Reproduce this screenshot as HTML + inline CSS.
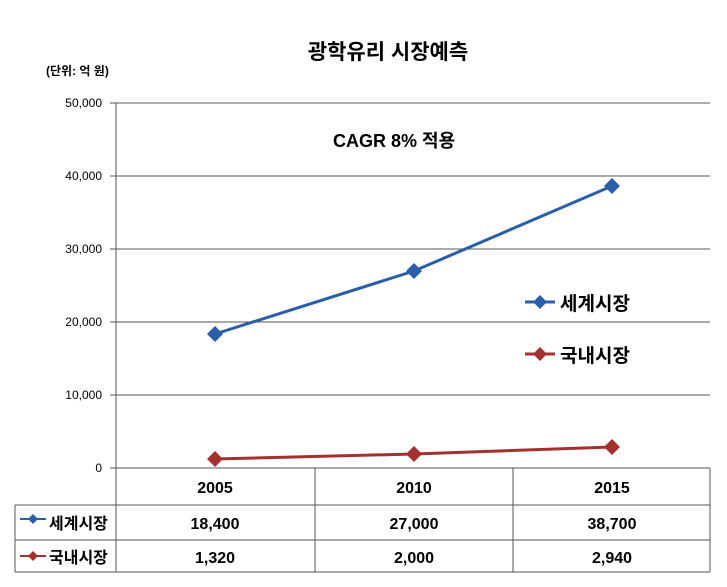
<!DOCTYPE html><html><head><meta charset="utf-8"><style>body{margin:0;background:#fff}svg{display:block}text{font-family:"Liberation Sans","Noto Sans CJK KR",sans-serif}</style></head><body>
<svg width="727" height="587" viewBox="0 0 727 587">
<text x="388" y="59" font-size="21" font-weight="bold" text-anchor="middle">광학유리 시장예측</text>
<text x="46" y="75" font-size="12" font-weight="bold">(단위: 억 원)</text>
<g stroke="#555" stroke-width="1">
<line x1="110" y1="103" x2="710" y2="103"/><line x1="110" y1="176" x2="710" y2="176"/><line x1="110" y1="249" x2="710" y2="249"/><line x1="110" y1="322" x2="710" y2="322"/><line x1="110" y1="395" x2="710" y2="395"/><line x1="110" y1="468" x2="710" y2="468"/>
<line x1="116" y1="103" x2="116" y2="572"/>
<line x1="315" y1="468" x2="315" y2="572"/><line x1="513" y1="468" x2="513" y2="572"/><line x1="710" y1="468" x2="710" y2="572"/>
<line x1="15" y1="505" x2="710" y2="505"/><line x1="15" y1="540" x2="710" y2="540"/><line x1="15" y1="572" x2="710" y2="572"/><line x1="15" y1="505" x2="15" y2="572"/>
</g>
<g font-size="12" text-anchor="end"><text x="102" y="107">50,000</text><text x="102" y="180">40,000</text><text x="102" y="253">30,000</text><text x="102" y="326">20,000</text><text x="102" y="399">10,000</text><text x="102" y="472">0</text></g>
<text x="333" y="147" font-size="18" font-weight="bold">CAGR 8% 적용</text>
<polyline points="215,334 414,271 612,186" fill="none" stroke="#2a5ea8" stroke-width="3"/>
<g fill="#2a5ea8"><path d="M215,326l8,8l-8,8l-8,-8z"/><path d="M414,263l8,8l-8,8l-8,-8z"/><path d="M612,178l8,8l-8,8l-8,-8z"/></g>
<polyline points="215,459 414,454 612,447" fill="none" stroke="#a3312f" stroke-width="3"/>
<g fill="#a3312f"><path d="M215,451l8,8l-8,8l-8,-8z"/><path d="M414,446l8,8l-8,8l-8,-8z"/><path d="M612,439l8,8l-8,8l-8,-8z"/></g>
<line x1="525" y1="302" x2="555" y2="302" stroke="#2a5ea8" stroke-width="3"/><path d="M540,295l7,7l-7,7l-7,-7z" fill="#2a5ea8"/>
<text x="560" y="310" font-size="19" font-weight="bold">세계시장</text>
<line x1="525" y1="354" x2="555" y2="354" stroke="#a3312f" stroke-width="3"/><path d="M540,347l7,7l-7,7l-7,-7z" fill="#a3312f"/>
<text x="560" y="362" font-size="19" font-weight="bold">국내시장</text>
<g font-size="16" font-weight="bold" text-anchor="middle">
<text x="215" y="493">2005</text><text x="414" y="493">2010</text><text x="612" y="493">2015</text>
<text x="215" y="529">18,400</text><text x="414" y="529">27,000</text><text x="612" y="529">38,700</text>
<text x="215" y="563">1,320</text><text x="414" y="563">2,000</text><text x="612" y="563">2,940</text></g>
<line x1="20" y1="519" x2="46" y2="519" stroke="#2a5ea8" stroke-width="2"/><path d="M33,514l5,5l-5,5l-5,-5z" fill="#2a5ea8"/>
<line x1="20" y1="556" x2="46" y2="556" stroke="#a3312f" stroke-width="2"/><path d="M33,551l5,5l-5,5l-5,-5z" fill="#a3312f"/>
<text x="49" y="529" font-size="16" font-weight="bold">세계시장</text>
<text x="49" y="563" font-size="16" font-weight="bold">국내시장</text>
</svg></body></html>
